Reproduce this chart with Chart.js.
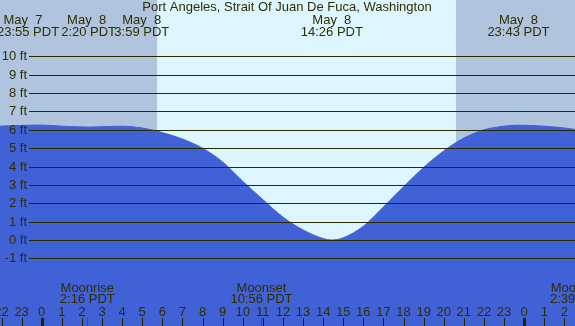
<!DOCTYPE html>
<html>
<head>
  <title>Port Angeles tide</title>
  <script src="https://cdn.jsdelivr.net/npm/chart.js"></script>
  <style>
    html, body { margin: 0; padding: 0; background: #b0c4de; }
    .chart-box { width: 575px; height: 326px; position: relative; }
  </style>
</head>
<body>
  <div class="chart-box">
    <canvas id="tideChart"></canvas>
  </div>

  <script>
    // hours from May 8 00:00 PDT, and tide height in ft
    const tideHours = [-2.1, -1, -0.08, 1, 2.33, 3, 3.98, 5, 5.47, 6, 7, 8, 9, 10, 11, 12, 13, 14, 14.43, 15, 16, 17, 18, 19, 20, 21, 22, 23, 23.72, 25, 26, 27];
    const tideFeet  = [6.2, 6.24, 6.26, 6.2, 6.15, 6.17, 6.2, 6.1, 6.0, 5.85, 5.5, 5.0, 4.25, 3.2, 2.2, 1.25, 0.55, 0.08, 0.0, 0.12, 0.75, 1.8, 2.9, 3.95, 4.85, 5.55, 6.0, 6.2, 6.25, 6.2, 6.1, 5.95];

    // high / low events shown at the top
    const eventHours = [-0.083, 2.333, 3.983, 14.433, 23.717];
    const eventDates = ["May  7", "May  8", "May  8", "May  8", "May  8"];
    const eventTimes = ["23:55 PDT", "2:20 PDT", "3:59 PDT", "14:26 PDT", "23:43 PDT"];

    // moon events at the bottom
    const moonHours = [2.267, 10.933, 26.65];
    const moonNames = ["Moonrise", "Moonset", "Moonrise"];
    const moonTimes = ["2:16 PDT", "10:56 PDT", "2:39 PDT"];

    const sunrise = 5.74;
    const sunset = 20.61;

    const feetTicks = [-1, 0, 1, 2, 3, 4, 5, 6, 7, 8, 9, 10];
    const hourTicks = [-2, -1, 0, 1, 2, 3, 4, 5, 6, 7, 8, 9, 10, 11, 12, 13, 14, 15, 16, 17, 18, 19, 20, 21, 22, 23, 24, 25, 26];

    const textColor = "#2e2e00";
    const font13 = "13px 'Liberation Sans', Arial, sans-serif";

    const backdrop = {
      id: "backdrop",
      beforeDatasetsDraw(chart) {
        const { ctx, chartArea: a, scales: { x } } = chart;
        const sx = x.getPixelForValue(sunrise);
        const ss = x.getPixelForValue(sunset);
        ctx.save();
        ctx.fillStyle = "#b0c4de";
        ctx.fillRect(a.left, a.top, a.right - a.left, a.bottom - a.top);
        ctx.fillStyle = "#ddf6fd";
        ctx.fillRect(sx, a.top, ss - sx, a.bottom - a.top);
        ctx.restore();
      },
      afterDatasetsDraw(chart) {
        const { ctx, chartArea: a, scales: { x, y } } = chart;
        ctx.save();
        ctx.font = font13;
        ctx.fillStyle = textColor;

        // ft grid lines and labels
        ctx.strokeStyle = "#2a2a00";
        ctx.lineWidth = 1;
        ctx.textAlign = "right";
        ctx.textBaseline = "middle";
        feetTicks.forEach(f => {
          const py = Math.round(y.getPixelForValue(f)) + 0.5;
          ctx.beginPath();
          ctx.moveTo(29, py);
          ctx.lineTo(a.right, py);
          ctx.stroke();
          ctx.fillText(f + " ft", 27, py);
        });

        // title
        ctx.textAlign = "center";
        ctx.textBaseline = "alphabetic";
        ctx.fillText("Port Angeles, Strait Of Juan De Fuca, Washington", 287, 11);

        // tide events (first three pushed apart like the original)
        const dateShift = [-17, -2, 20, 0, 0];
        const timeShift = [-12, 0, 20, 0, 0];
        eventHours.forEach((h, i) => {
          const px = x.getPixelForValue(h);
          ctx.fillText(eventDates[i], px + dateShift[i], 24);
          ctx.fillText(eventTimes[i], px + timeShift[i], 36);
        });

        // moon events
        moonHours.forEach((h, i) => {
          const px = x.getPixelForValue(h);
          ctx.fillStyle = textColor;
          ctx.fillText(moonNames[i], px, 292);
          ctx.fillText(moonTimes[i], px, 303);
          ctx.fillStyle = "#ff0000";
          ctx.fillRect(Math.round(px), 318, 1, 8);
        });

        // hour labels and ticks
        hourTicks.forEach(h => {
          const px = x.getPixelForValue(h);
          const hr = ((h % 24) + 24) % 24;
          ctx.fillStyle = textColor;
          ctx.fillText(String(hr), px, 316);
          ctx.fillStyle = "#222200";
          if (hr === 0) ctx.fillRect(Math.round(px) - 1, 318, 3, 8);
          else ctx.fillRect(Math.round(px), 318, 1, 8);
        });
        ctx.restore();
      }
    };

    new Chart(document.getElementById("tideChart"), {
      type: "line",
      data: {
        datasets: [{
          data: tideHours.map((h, i) => ({ x: h, y: tideFeet[i] })),
          backgroundColor: "#4161d6",
          borderColor: "#4161d6",
          borderWidth: 1,
          pointRadius: 0,
          fill: "start",
          cubicInterpolationMode: "monotone"
        }]
      },
      options: {
        responsive: true,
        maintainAspectRatio: false,
        animation: false,
        layout: { padding: 0 },
        plugins: { legend: { display: false }, tooltip: { enabled: false } },
        scales: {
          x: { type: "linear", min: -2.075, max: 26.53, display: false },
          y: { type: "linear", min: -4.684, max: 13.07, display: false }
        }
      },
      plugins: [backdrop]
    });
  </script>
</body>
</html>
